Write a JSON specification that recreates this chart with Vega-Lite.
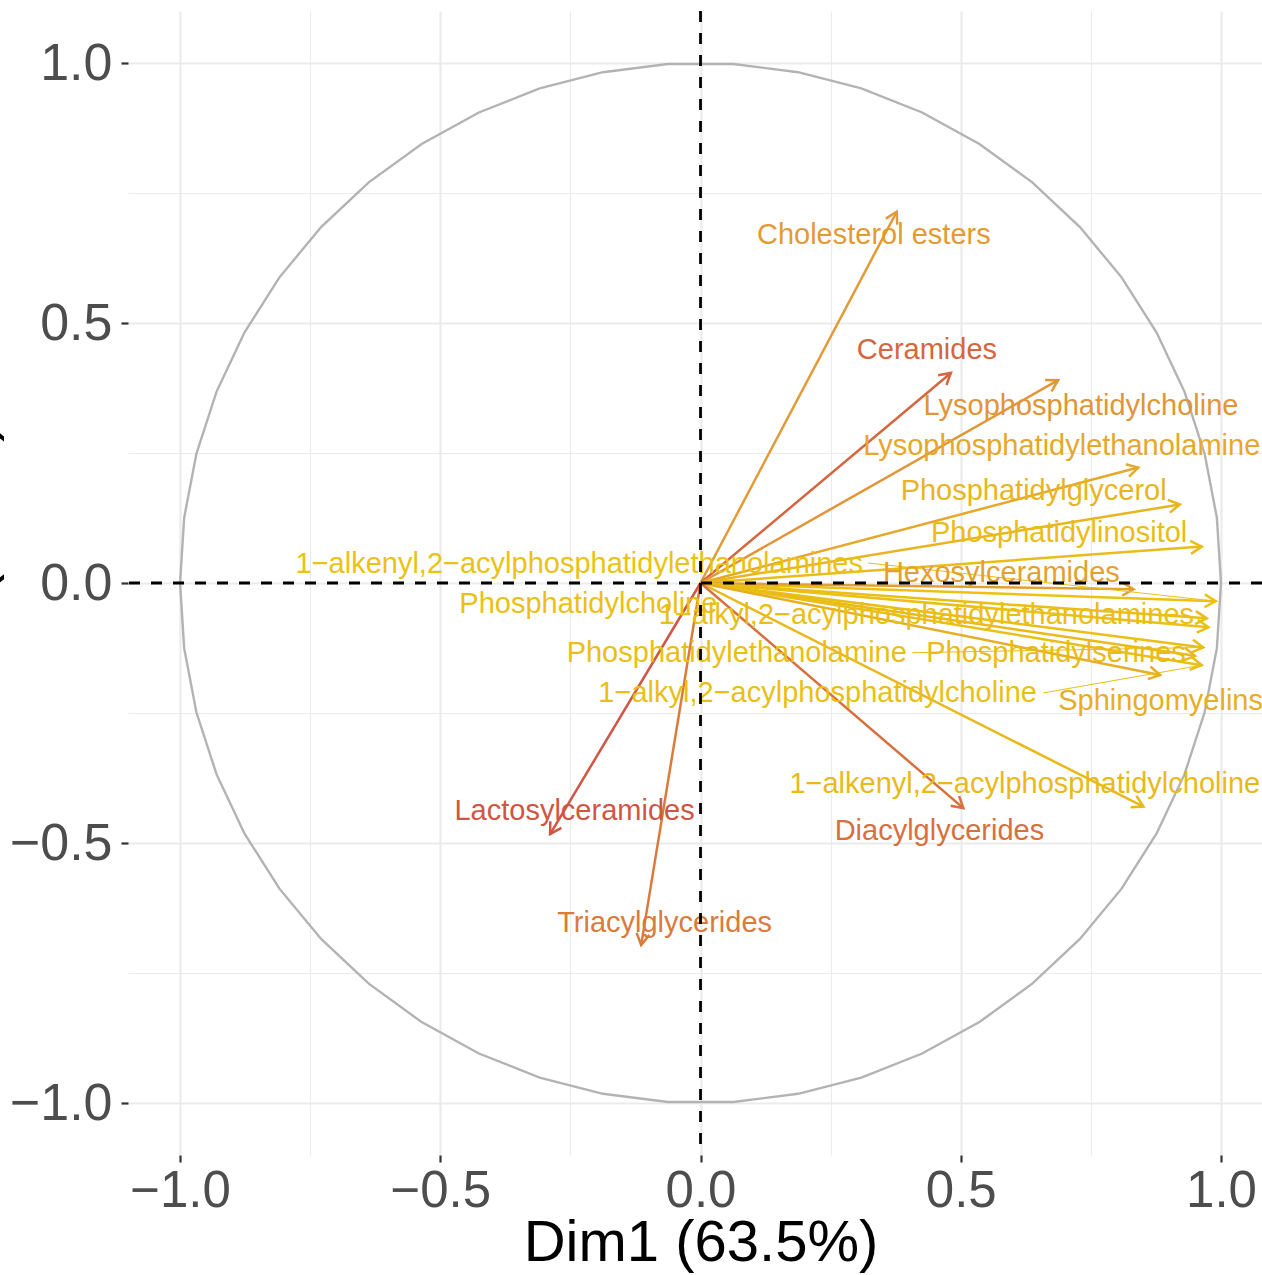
{
  "$schema": "https://vega.github.io/schema/vega-lite/v6.json",
  "width": 1134,
  "height": 1144,
  "autosize": {"type": "none"},
  "padding": {"left": 128, "top": 11, "right": 0, "bottom": 120},
  "background": "white",
  "config": {"view": {"stroke": null}, "font": "Liberation Sans"},
  "datasets": {
    "vars": [
      {"name": "Cholesterol esters", "x": 0.377, "y": 0.714, "lx": 0.333, "ly": 0.669},
      {"name": "Ceramides", "x": 0.481, "y": 0.404, "lx": 0.435, "ly": 0.448},
      {"name": "Lysophosphatidylcholine", "x": 0.687, "y": 0.39, "lx": 0.731, "ly": 0.34},
      {"name": "Lysophosphatidylethanolamine", "x": 0.841, "y": 0.222, "lx": 0.694, "ly": 0.264},
      {"name": "Phosphatidylglycerol", "x": 0.921, "y": 0.151, "lx": 0.64, "ly": 0.176},
      {"name": "Phosphatidylinositol", "x": 0.963, "y": 0.07, "lx": 0.689, "ly": 0.096},
      {"name": "1−alkenyl,2−acylphosphatidylethanolamines", "x": 0.99, "y": -0.035, "lx": -0.233, "ly": 0.0365, "sx": 0.322, "sy": 0.0385},
      {"name": "Hexosylceramides", "x": 0.832, "y": -0.012, "lx": 0.578, "ly": 0.019},
      {"name": "Phosphatidylcholine", "x": 0.976, "y": -0.085, "lx": -0.2155, "ly": -0.04},
      {"name": "1−alkyl,2−acylphosphatidylethanolamines", "x": 0.9725, "y": -0.068, "lx": 0.434, "ly": -0.0615},
      {"name": "Phosphatidylethanolamine", "x": 0.966, "y": -0.124, "lx": 0.0696, "ly": -0.134, "sx": 0.407, "sy": -0.134},
      {"name": "Phosphatidylserines", "x": 0.95, "y": -0.14, "lx": 0.683, "ly": -0.135},
      {"name": "1−alkyl,2−acylphosphatidylcholine", "x": 0.963, "y": -0.158, "lx": 0.225, "ly": -0.212, "sx": 0.658, "sy": -0.2115},
      {"name": "Sphingomyelins", "x": 0.883, "y": -0.177, "lx": 0.884, "ly": -0.227},
      {"name": "1−alkenyl,2−acylphosphatidylcholine", "x": 0.851, "y": -0.43, "lx": 0.623, "ly": -0.3865},
      {"name": "Lactosylceramides", "x": -0.289, "y": -0.483, "lx": -0.242, "ly": -0.4385},
      {"name": "Diacylglycerides", "x": 0.505, "y": -0.433, "lx": 0.459, "ly": -0.477},
      {"name": "Triacylglycerides", "x": -0.114, "y": -0.696, "lx": -0.069, "ly": -0.654}
    ],
    "circle": [
      {"i": 0, "x": 1, "y": 0}, {"i": 1, "x": 0.99211, "y": 0.12533}, {"i": 2, "x": 0.96858, "y": 0.24869},
      {"i": 3, "x": 0.92978, "y": 0.36812}, {"i": 4, "x": 0.87631, "y": 0.48175}, {"i": 5, "x": 0.80902, "y": 0.58779},
      {"i": 6, "x": 0.72897, "y": 0.68455}, {"i": 7, "x": 0.63742, "y": 0.77051}, {"i": 8, "x": 0.53583, "y": 0.84433},
      {"i": 9, "x": 0.42578, "y": 0.90483}, {"i": 10, "x": 0.30902, "y": 0.95106}, {"i": 11, "x": 0.18738, "y": 0.98229},
      {"i": 12, "x": 0.06279, "y": 0.99803}, {"i": 13, "x": -0.06279, "y": 0.99803}, {"i": 14, "x": -0.18738, "y": 0.98229},
      {"i": 15, "x": -0.30902, "y": 0.95106}, {"i": 16, "x": -0.42578, "y": 0.90483}, {"i": 17, "x": -0.53583, "y": 0.84433},
      {"i": 18, "x": -0.63742, "y": 0.77051}, {"i": 19, "x": -0.72897, "y": 0.68455}, {"i": 20, "x": -0.80902, "y": 0.58779},
      {"i": 21, "x": -0.87631, "y": 0.48175}, {"i": 22, "x": -0.92978, "y": 0.36812}, {"i": 23, "x": -0.96858, "y": 0.24869},
      {"i": 24, "x": -0.99211, "y": 0.12533}, {"i": 25, "x": -1, "y": 0}, {"i": 26, "x": -0.99211, "y": -0.12533},
      {"i": 27, "x": -0.96858, "y": -0.24869}, {"i": 28, "x": -0.92978, "y": -0.36812}, {"i": 29, "x": -0.87631, "y": -0.48175},
      {"i": 30, "x": -0.80902, "y": -0.58779}, {"i": 31, "x": -0.72897, "y": -0.68455}, {"i": 32, "x": -0.63742, "y": -0.77051},
      {"i": 33, "x": -0.53583, "y": -0.84433}, {"i": 34, "x": -0.42578, "y": -0.90483}, {"i": 35, "x": -0.30902, "y": -0.95106},
      {"i": 36, "x": -0.18738, "y": -0.98229}, {"i": 37, "x": -0.06279, "y": -0.99803}, {"i": 38, "x": 0.06279, "y": -0.99803},
      {"i": 39, "x": 0.18738, "y": -0.98229}, {"i": 40, "x": 0.30902, "y": -0.95106}, {"i": 41, "x": 0.42578, "y": -0.90483},
      {"i": 42, "x": 0.53583, "y": -0.84433}, {"i": 43, "x": 0.63742, "y": -0.77051}, {"i": 44, "x": 0.72897, "y": -0.68455},
      {"i": 45, "x": 0.80902, "y": -0.58779}, {"i": 46, "x": 0.87631, "y": -0.48175}, {"i": 47, "x": 0.92978, "y": -0.36812},
      {"i": 48, "x": 0.96858, "y": -0.24869}, {"i": 49, "x": 0.99211, "y": -0.12533}, {"i": 50, "x": 1, "y": 0}
    ]
  },
  "layer": [
    {
      "data": {"name": "circle"},
      "mark": {"type": "line", "color": "#B3B3B3", "strokeWidth": 2.4},
      "encoding": {
        "x": {
          "field": "x", "type": "quantitative", "title": "Dim1 (63.5%)",
          "scale": {"domain": [-1.1, 1.0788], "nice": false, "zero": false},
          "axis": {
            "values": [-1, -0.75, -0.5, -0.25, 0, 0.25, 0.5, 0.75, 1],
            "domain": false, "grid": true, "gridColor": "#EBEBEB",
            "gridWidth": {"condition": {"test": "abs(datum.value) == 0.25 || abs(datum.value) == 0.75", "value": 1.1}, "value": 2.2},
            "tickColor": "#333333", "tickWidth": 2.2, "tickSize": 7,
            "tickOpacity": {"condition": {"test": "abs(datum.value) == 0.25 || abs(datum.value) == 0.75", "value": 0}, "value": 1},
            "labelExpr": "abs(datum.value) == 0.25 || abs(datum.value) == 0.75 ? '' : format(datum.value, '.1f')",
            "labelFont": "Liberation Sans", "labelFontSize": 51, "labelColor": "#4D4D4D", "labelPadding": 4,
            "labelFlush": false, "labelOverlap": false,
            "titleFont": "Liberation Sans", "titleFontSize": 58, "titleFontWeight": "normal", "titleColor": "#000000",
            "titleX": 572.5, "titleY": 105, "titleAlign": "center", "titleBaseline": "alphabetic"
          }
        },
        "y": {
          "field": "y", "type": "quantitative", "title": "Dim2 (9.6%)",
          "scale": {"domain": [-1.1, 1.1], "nice": false, "zero": false},
          "axis": {
            "values": [-1, -0.75, -0.5, -0.25, 0, 0.25, 0.5, 0.75, 1],
            "domain": false, "grid": true, "gridColor": "#EBEBEB",
            "gridWidth": {"condition": {"test": "abs(datum.value) == 0.25 || abs(datum.value) == 0.75", "value": 1.1}, "value": 2.2},
            "tickColor": "#333333", "tickWidth": 2.2, "tickSize": 7,
            "tickOpacity": {"condition": {"test": "abs(datum.value) == 0.25 || abs(datum.value) == 0.75", "value": 0}, "value": 1},
            "labelExpr": "abs(datum.value) == 0.25 || abs(datum.value) == 0.75 ? '' : format(datum.value, '.1f')",
            "labelFont": "Liberation Sans", "labelFontSize": 52, "labelColor": "#4D4D4D", "labelPadding": 9,
            "labelFlush": false, "labelOverlap": false,
            "titleFont": "Liberation Sans", "titleFontSize": 58, "titleFontWeight": "normal", "titleColor": "#000000",
            "titleX": -137, "titleY": 572, "titleAngle": 270, "titleAlign": "center", "titleBaseline": "alphabetic"
          }
        },
        "order": {"field": "i", "type": "quantitative"}
      }
    },
    {
      "data": {"name": "vars"},
      "transform": [{"calculate": "datum.x * datum.x + datum.y * datum.y", "as": "cos2"}],
      "mark": {"type": "rule", "strokeWidth": 2.5},
      "encoding": {
        "x": {"field": "x", "type": "quantitative", "title": "Dim1 (63.5%)"},
        "x2": {"datum": 0},
        "y": {"field": "y", "type": "quantitative", "title": "Dim2 (9.6%)"},
        "y2": {"datum": 0},
        "color": {"field": "cos2", "type": "quantitative", "legend": null,
          "scale": {"domain": [0.31, 0.65, 0.98], "range": ["#CF5543", "#E39A35", "#EBC212"], "interpolate": "rgb"}}
      }
    },
    {
      "data": {"name": "vars"},
      "transform": [
        {"calculate": "datum.x * datum.x + datum.y * datum.y", "as": "cos2"},
        {"calculate": "atan2(-datum.y, datum.x) * 180 / PI", "as": "ang"}
      ],
      "mark": {"type": "point", "shape": "M -1 -0.577 L 0 0 L -1 0.577", "filled": false, "size": 500, "strokeWidth": 2.5, "opacity": 1},
      "encoding": {
        "x": {"field": "x", "type": "quantitative", "title": "Dim1 (63.5%)"},
        "y": {"field": "y", "type": "quantitative", "title": "Dim2 (9.6%)"},
        "angle": {"field": "ang", "type": "quantitative", "scale": null},
        "color": {"field": "cos2", "type": "quantitative", "legend": null,
          "scale": {"domain": [0.31, 0.65, 0.98], "range": ["#CF5543", "#E39A35", "#EBC212"], "interpolate": "rgb"}}
      }
    },
    {
      "data": {"name": "vars"},
      "transform": [
        {"filter": "isValid(datum.sx)"},
        {"calculate": "datum.x * datum.x + datum.y * datum.y", "as": "cos2"}
      ],
      "mark": {"type": "rule", "strokeWidth": 1},
      "encoding": {
        "x": {"field": "sx", "type": "quantitative", "title": "Dim1 (63.5%)"},
        "x2": {"field": "x"},
        "y": {"field": "sy", "type": "quantitative", "title": "Dim2 (9.6%)"},
        "y2": {"field": "y"},
        "color": {"field": "cos2", "type": "quantitative", "legend": null,
          "scale": {"domain": [0.31, 0.65, 0.98], "range": ["#CF5543", "#E39A35", "#EBC212"], "interpolate": "rgb"}}
      }
    },
    {
      "data": {"name": "vars"},
      "transform": [{"calculate": "datum.x * datum.x + datum.y * datum.y", "as": "cos2"}],
      "mark": {"type": "text", "font": "Liberation Sans", "fontSize": 29, "align": "center", "baseline": "middle"},
      "encoding": {
        "x": {"field": "lx", "type": "quantitative", "title": "Dim1 (63.5%)"},
        "y": {"field": "ly", "type": "quantitative", "title": "Dim2 (9.6%)"},
        "text": {"field": "name"},
        "color": {"field": "cos2", "type": "quantitative", "legend": null,
          "scale": {"domain": [0.31, 0.65, 0.98], "range": ["#CF5543", "#E39A35", "#EBC212"], "interpolate": "rgb"}}
      }
    },
    {
      "data": {"values": [{"v": 0}]},
      "mark": {"type": "rule", "color": "#000000", "strokeWidth": 2.8, "strokeDash": [11, 11]},
      "encoding": {"x": {"field": "v", "type": "quantitative", "title": "Dim1 (63.5%)"}}
    },
    {
      "data": {"values": [{"v": 0}]},
      "mark": {"type": "rule", "color": "#000000", "strokeWidth": 2.8, "strokeDash": [11, 11]},
      "encoding": {"y": {"field": "v", "type": "quantitative", "title": "Dim2 (9.6%)"}}
    }
  ]
}
